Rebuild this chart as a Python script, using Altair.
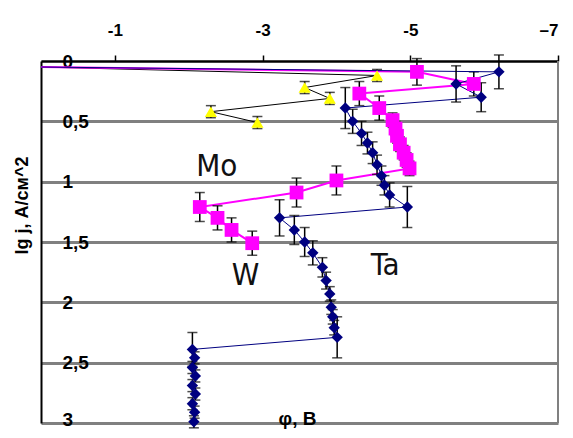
import altair as alt
import pandas as pd

# ---- data ----
y_ticks = [0, 0.5, 1, 1.5, 2, 2.5, 3]
x_ticks = [-1, -3, -5, -7]

mo_x = [0, -4.55, -3.57, -3.91, -2.30, -2.93]
mo_y = [0.05, 0.12, 0.22, 0.31, 0.42, 0.51]
mo_err = [0, 0.05, 0.05, 0.05, 0.05, 0.05]

w_x = [0, -5.09, -5.86, -4.31, -4.58, -4.76, -4.80, -4.82, -4.86, -4.91, -4.95, -4.99,
       -4.00, -3.46, -2.15, -2.39, -2.58, -2.86]
w_y = [0.05, 0.09, 0.19, 0.27, 0.39, 0.49, 0.56, 0.62, 0.69, 0.76, 0.82, 0.89,
       0.99, 1.09, 1.21, 1.30, 1.40, 1.51]
w_err = [0, 0.11, 0.10, 0.10, 0.10, 0.06, 0.06, 0.06, 0.06, 0.06, 0.06, 0.06,
         0.12, 0.12, 0.12, 0.10, 0.10, 0.10]

ta_x = [0, -6.20, -5.62, -5.96, -4.12, -4.22, -4.34, -4.42, -4.49, -4.55, -4.61, -4.65, -4.72,
        -4.96, -3.23, -3.43, -3.57, -3.68, -3.81, -3.86, -3.91, -3.93, -3.95, -3.97, -4.01,
        -2.05, -2.08, -2.05, -2.09, -2.05, -2.09, -2.05, -2.08, -2.07]
ta_y = [0.05, 0.09, 0.19, 0.30, 0.39, 0.50, 0.60, 0.68, 0.76, 0.86, 0.95, 1.03, 1.11,
        1.21, 1.30, 1.40, 1.50, 1.59, 1.71, 1.82, 1.93, 2.04, 2.12, 2.21, 2.29,
        2.39, 2.46, 2.54, 2.61, 2.69, 2.76, 2.84, 2.91, 2.99]
ta_err = [0, 0.14, 0.15, 0.12, 0.17, 0.10, 0.10, 0.09, 0.09, 0.08, 0.08, 0.08, 0.10,
          0.17, 0.15, 0.12, 0.12, 0.10, 0.08, 0.07, 0.06, 0.06, 0.06, 0.06, 0.17,
          0.14, 0.05, 0.05, 0.05, 0.05, 0.05, 0.05, 0.05, 0.05]

ann_text = ["Mo", "W", "Ta"]
ann_x = [-2.38, -2.77, -4.66]
ann_y = [0.88, 1.78, 1.70]

series = [
    ("Mo", mo_x, mo_y, mo_err, "#000000", 1, "triangle-up", "#FFFF00", 150),
    ("W", w_x, w_y, w_err, "#FF00FF", 2, "square", "#FF00FF", 190),
    ("Ta", ta_x, ta_y, ta_err, "#000080", 1, "diamond", "#000080", 130),
]

FONT = "Liberation Sans"
NARROW = "DejaVu Sans Condensed, Liberation Sans Narrow, Liberation Sans"

xscale = alt.Scale(domain=[-7, 0], reverse=True, nice=False, zero=False)
yscale = alt.Scale(domain=[0, 3], reverse=True, nice=False, zero=False)

x_axis = alt.Axis(
    orient="top", values=x_ticks, grid=False, ticks=True, tickSize=6, tickColor="black",
    tickWidth=1.5, domainColor="black", domainWidth=2,
    labelExpr="datum.value == -7 ? '\u20137' : '-' + toString(abs(datum.value))",
    labelFont=FONT, labelFontWeight="bold", labelFontSize=17, labelColor="black",
    labelPadding=16,
    title="\u03c6, \u0412", titleFont=FONT, titleFontWeight="bold", titleFontSize=19,
    titleColor="black", titleX=256, titleY=357, titleAngle=0, titleAlign="center",
    titleBaseline="middle",
)
y_axis = alt.Axis(
    orient="left", values=y_ticks, grid=True, gridColor="#808080", gridWidth=3,
    ticks=True, tickSize=0, domainColor="black", domainWidth=2,
    labelExpr="replace(toString(datum.value), '.', ',')",
    labelAlign="left",
    labelBaseline={"condition": {"test": "datum.value == 3", "value": "alphabetic"},
                   "value": "middle"},
    labelOffset={"condition": {"test": "datum.value == 3", "value": 2}, "value": 0},
    labelPadding=-21,
    labelFont=FONT, labelFontWeight="bold", labelFontSize=19, labelColor="black",
    title="lg j, \u0410/\u0441\u043c^2", titleFont=FONT, titleFontWeight="bold",
    titleFontSize=18, titleColor="black", titleX=-19, titleY=144, titleAngle=-90,
    titleAlign="center", titleBaseline="middle",
)

layers = []

# right frame edge
frame = pd.DataFrame({"x": [-7]})
layers.append(
    alt.Chart(frame).mark_rule(color="#808080", strokeWidth=2).encode(
        x=alt.X("x:Q", scale=xscale, axis=x_axis)
    )
)

for name, xs, ys, es, lc, lw, shape, mc, msize in series:
    df = pd.DataFrame({"x": xs, "y": ys, "err": es})
    df["order"] = range(len(df))
    df["lo"] = df["y"] - df["err"]
    df["hi"] = df["y"] + df["err"]
    pts = df[df["err"] > 0]

    line = alt.Chart(df).mark_line(color=lc, strokeWidth=lw).encode(
        x=alt.X("x:Q", scale=xscale, axis=x_axis),
        y=alt.Y("y:Q", scale=yscale, axis=y_axis),
        order="order:Q",
    )
    rule = alt.Chart(pts).mark_rule(color="black", strokeWidth=1.5).encode(
        x=alt.X("x:Q", scale=xscale), y=alt.Y("lo:Q", scale=yscale), y2="hi:Q"
    )
    cap_lo = alt.Chart(pts).mark_tick(color="black", orient="horizontal", size=10,
                                      thickness=1.5).encode(
        x=alt.X("x:Q", scale=xscale), y=alt.Y("lo:Q", scale=yscale)
    )
    cap_hi = alt.Chart(pts).mark_tick(color="black", orient="horizontal", size=10,
                                      thickness=1.5).encode(
        x=alt.X("x:Q", scale=xscale), y=alt.Y("hi:Q", scale=yscale)
    )
    layers += [line, rule, cap_lo, cap_hi]

for name, xs, ys, es, lc, lw, shape, mc, msize in series:
    df = pd.DataFrame({"x": xs, "y": ys, "err": es})
    pts = df[df["err"] > 0]
    layers.append(
        alt.Chart(pts).mark_point(shape=shape, filled=True, size=msize, color=mc,
                                  opacity=1).encode(
            x=alt.X("x:Q", scale=xscale), y=alt.Y("y:Q", scale=yscale)
        )
    )

ann = pd.DataFrame({"t": ann_text, "x": ann_x, "y": ann_y})
layers.append(
    alt.Chart(ann).mark_text(font=NARROW, fontSize=31, color="#111111",
                             baseline="middle", align="center").encode(
        x=alt.X("x:Q", scale=xscale), y=alt.Y("y:Q", scale=yscale), text="t:N"
    )
)

chart = alt.layer(*layers).properties(
    width=517, height=362,
    autosize=alt.AutoSizeParams(type="none"),
    padding={"left": 33, "top": 53, "right": 7, "bottom": 7},
).configure_view(stroke=None).configure(background="white")

chart.save("out.html", embed_options={"renderer": "svg", "actions": False})
